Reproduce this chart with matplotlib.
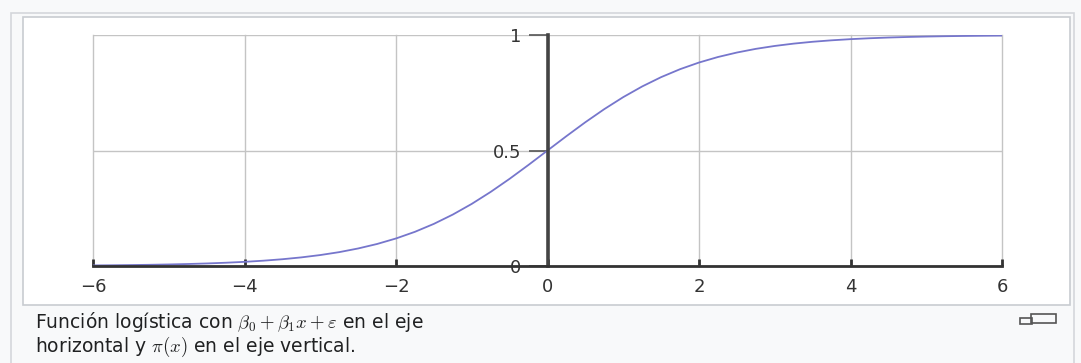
import matplotlib
matplotlib.use("Agg")
import matplotlib.pyplot as plt
from matplotlib.patches import Rectangle

# ---- data ----
x_vals = [-6.0, -5.75, -5.5, -5.25, -5.0, -4.75, -4.5, -4.25, -4.0, -3.75, -3.5, -3.25,
          -3.0, -2.75, -2.5, -2.25, -2.0, -1.75, -1.5, -1.25, -1.0, -0.75, -0.5, -0.25,
          0.0, 0.25, 0.5, 0.75, 1.0, 1.25, 1.5, 1.75, 2.0, 2.25, 2.5, 2.75,
          3.0, 3.25, 3.5, 3.75, 4.0, 4.25, 4.5, 4.75, 5.0, 5.25, 5.5, 5.75, 6.0]
y_vals = [0.0025, 0.0032, 0.0041, 0.0052, 0.0067, 0.0086, 0.0110, 0.0141, 0.0180, 0.0230, 0.0293, 0.0373,
          0.0474, 0.0600, 0.0759, 0.0953, 0.1192, 0.1480, 0.1824, 0.2227, 0.2689, 0.3208, 0.3775, 0.4378,
          0.5000, 0.5622, 0.6225, 0.6792, 0.7311, 0.7773, 0.8176, 0.8520, 0.8808, 0.9047, 0.9241, 0.9400,
          0.9526, 0.9627, 0.9707, 0.9770, 0.9820, 0.9859, 0.9890, 0.9914, 0.9933, 0.9948, 0.9959, 0.9968, 0.9975]
x_ticks = [-6, -4, -2, 0, 2, 4, 6]
x_tick_labels = ["\u22126", "\u22124", "\u22122", "0", "2", "4", "6"]
y_ticks = [0, 0.5, 1]
y_tick_labels = ["0", "0.5", "1"]
caption_line1 = r"Función logística con $\beta_0+\beta_1 x+\varepsilon$ en el eje"
caption_line2 = r"horizontal y $\pi(x)$ en el eje vertical."

plt.rcParams['font.family'] = ['DejaVu Sans']
plt.rcParams['mathtext.fontset'] = 'cm'

W, H = 1081, 363
fig = plt.figure(figsize=(W / 100, H / 100), dpi=100)
fig.patch.set_facecolor("#f8f9fa")

def fx(px):
    return px / W

def fy(py):
    return 1 - py / H

# outer thumbnail border
fig.patches.append(Rectangle((fx(11), fy(370)), fx(1074) - fx(11), fy(13) - fy(370),
                             transform=fig.transFigure, facecolor="#f8f9fa",
                             edgecolor="#d4d7db", linewidth=1.2, zorder=0))
# inner white image box
fig.patches.append(Rectangle((fx(23), fy(305)), fx(1070) - fx(23), fy(17) - fy(305),
                             transform=fig.transFigure, facecolor="white",
                             edgecolor="#c8ccd1", linewidth=1.2, zorder=1))

left, right, top, bottom = 93, 1002, 35, 266
ax = fig.add_axes([fx(left), fy(bottom), fx(right) - fx(left), fy(top) - fy(bottom)])
ax.set_facecolor("none")
ax.set_zorder(2)
ax.set_xlim(-6, 6)
ax.set_ylim(0, 1)

ax.plot(x_vals, y_vals, color="#7676cc", linewidth=1.3, zorder=3, solid_capstyle="round")

ax.set_xticks(x_ticks)
ax.set_xticklabels(x_tick_labels)
ax.set_yticks(y_ticks)
ax.set_yticklabels(y_tick_labels)

ax.grid(True, color="#c4c4c4", linewidth=1.0, zorder=1)
for gl in ax.get_xgridlines() + ax.get_ygridlines():
    gl.set_clip_on(False)
ax.set_axisbelow(True)

for s in ["top", "right"]:
    ax.spines[s].set_visible(False)
ax.spines["left"].set_position(("data", 0))
ax.spines["left"].set_color("#444444")
ax.spines["left"].set_linewidth(2.6)
ax.spines["left"].set_zorder(4)
ax.spines["bottom"].set_color("#333333")
ax.spines["bottom"].set_linewidth(2.0)
ax.spines["bottom"].set_zorder(4)

ax.tick_params(axis="x", direction="in", length=5, width=2, color="#333333",
               labelsize=13, labelcolor="#333333", pad=9)
ax.tick_params(axis="y", direction="out", length=14, width=1.2, color="#555555",
               labelsize=13, labelcolor="#333333", pad=5)

fig.text(fx(35), fy(328), caption_line1, fontsize=13.5, color="#202122",
         ha="left", va="baseline")
fig.text(fx(35), fy(352), caption_line2, fontsize=13.5, color="#202122",
         ha="left", va="baseline")

# enlarge icon
fig.patches.append(Rectangle((fx(1031), fy(323)), fx(1056) - fx(1031), fy(314) - fy(323),
                             transform=fig.transFigure, facecolor="none",
                             edgecolor="#555555", linewidth=1.2, zorder=3))
fig.patches.append(Rectangle((fx(1020), fy(324)), fx(1032) - fx(1020), fy(318) - fy(324),
                             transform=fig.transFigure, facecolor="none",
                             edgecolor="#555555", linewidth=1.2, zorder=3))

fig.savefig("out.png", dpi=100, facecolor=fig.get_facecolor())
